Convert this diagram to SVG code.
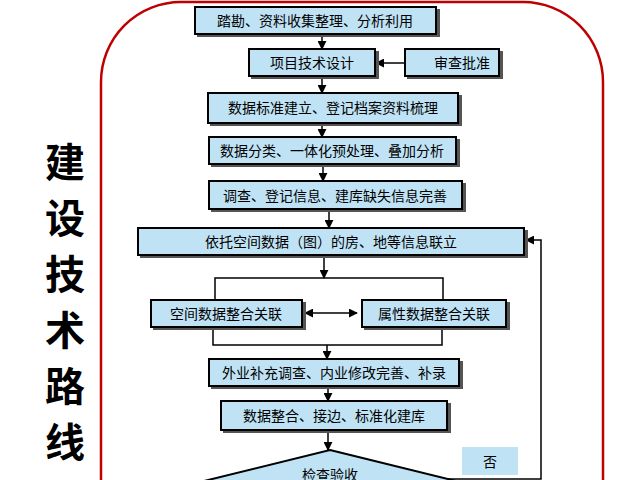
<svg xmlns="http://www.w3.org/2000/svg" width="640" height="480" viewBox="0 0 640 480">
<defs>
<marker id="ar" viewBox="0 0 10 10" refX="9" refY="5" markerWidth="6" markerHeight="6" orient="auto-start-reverse"><path d="M0,0 L10,5 L0,10 z" fill="#000"/></marker>
<filter id="sh"><feDropShadow dx="3" dy="3" stdDeviation="0" flood-color="#555"/></filter>
</defs>
<style>
.b rect{fill:#bfe3f5;stroke:#000;stroke-width:2;filter:url(#sh)}
text{font-family:"Noto Sans CJK SC",sans-serif;font-size:14px;text-anchor:middle;dominant-baseline:central;fill:#000}
.t{font-size:40px;font-weight:bold}
.c{fill:none;stroke:#000;stroke-width:1.5}
</style>
<rect x="0" y="0" width="640" height="480" fill="#fff"/>
<rect x="101" y="2" width="502" height="560" rx="80" fill="none" stroke="#c00000" stroke-width="2.5"/>
<g id="title"><text class="t" x="65" y="160">建</text><text class="t" x="65" y="216">设</text><text class="t" x="65" y="272">技</text><text class="t" x="65" y="328">术</text><text class="t" x="65" y="384">路</text><text class="t" x="65" y="440">线</text></g>
<g id="connectors" class="c">
<line x1="322" y1="34" x2="322" y2="49" marker-end="url(#ar)"/>
<line x1="405" y1="63" x2="376" y2="63" marker-end="url(#ar)"/>
<line x1="322" y1="76" x2="322" y2="93" marker-end="url(#ar)"/>
<line x1="322" y1="123" x2="322" y2="137" marker-end="url(#ar)"/>
<line x1="323" y1="164" x2="323" y2="181" marker-end="url(#ar)"/>
<line x1="329" y1="209" x2="329" y2="228" marker-end="url(#ar)"/>
<line x1="324" y1="258" x2="324" y2="278" marker-end="url(#ar)"/>
<polyline points="215,300 215,278 443,278 443,300"/>
<polyline points="213,327 213,345 442,345 442,327"/>
<line x1="305" y1="313" x2="357" y2="313" marker-start="url(#ar)" marker-end="url(#ar)"/>
<line x1="327" y1="345" x2="327" y2="359" marker-end="url(#ar)"/>
<line x1="328" y1="386" x2="328" y2="401" marker-end="url(#ar)"/>
<line x1="328" y1="430" x2="328" y2="450" marker-end="url(#ar)"/>
<polyline points="445,479 541,479 541,240 526,240" marker-end="url(#ar)"/>
</g>
<g id="n1" class="b"><rect x="195" y="7" width="241" height="27"/><text x="315" y="20">踏勘、资料收集整理、分析利用</text></g>
<g id="n2" class="b"><rect x="249" y="49" width="126" height="27"/><text x="312" y="62">项目技术设计</text></g>
<g id="n3" class="b"><rect x="405" y="49" width="94" height="27"/><text x="462" y="62">审查批准</text></g>
<g id="n4" class="b"><rect x="208" y="93" width="250" height="30"/><text x="333" y="107">数据标准建立、登记档案资料梳理</text></g>
<g id="n5" class="b"><rect x="209" y="137" width="247" height="27"/><text x="332" y="150">数据分类、一体化预处理、叠加分析</text></g>
<g id="n6" class="b"><rect x="209" y="181" width="253" height="28"/><text x="335" y="195">调查、登记信息、建库缺失信息完善</text></g>
<g id="n7" class="b"><rect x="138" y="228" width="386" height="27"/><text x="331" y="241">依托空间数据（图）的房、地等信息联立</text></g>
<g id="n8" class="b"><rect x="151" y="300" width="151" height="27"/><text x="226" y="313">空间数据整合关联</text></g>
<g id="n9" class="b"><rect x="362" y="300" width="144" height="27"/><text x="434" y="313">属性数据整合关联</text></g>
<g id="n10" class="b"><rect x="209" y="359" width="250" height="27"/><text x="334" y="372">外业补充调查、内业修改完善、补录</text></g>
<g id="n11" class="b"><rect x="221" y="401" width="226" height="29"/><text x="334" y="415">数据整合、接边、标准化建库</text></g>
<g id="n12"><polygon points="330,450 460,482 330,514 200,482" fill="#bfe3f5" stroke="#000" stroke-width="2"/><text x="330" y="474">检查验收</text></g>
<g id="n13"><rect x="462" y="447" width="56" height="28" fill="#bfe3f5"/><text x="490" y="461">否</text></g>
</svg>
